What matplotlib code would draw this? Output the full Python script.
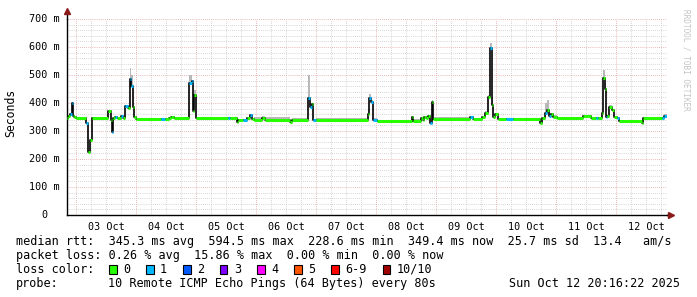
#!/usr/bin/env python3
"""SmokePing style latency graph, 10 days ending Sun Oct 12 20:16:22 2025."""
import matplotlib
matplotlib.use("Agg")
import matplotlib.pyplot as plt
import numpy as np

# ---------------------------------------------------------------------------
# Data: hours since 2025-10-03 00:00, median rtt (ms), smoke top (ms), loss
# ---------------------------------------------------------------------------
t_start, t_end = -3.73, 236.27

hours = [-3.73, -3.2, -2.6, -1.8, -1.4, -0.8, 0.0, 4.0, 4.8, 5.6, 6.2,
         12.8, 13.8, 14.2, 14.8, 15.6, 16.4, 18.0, 18.8, 19.6, 20.6, 21.4,
         22.0, 22.6, 23.2, 23.8, 34.0, 35.6, 37.2, 38.0, 39.2, 45.0, 46.2,
         46.6, 47.2, 47.8, 60.8, 61.6, 64.2, 64.8, 66.8, 68.4, 69.6, 70.4,
         71.2, 74.4, 75.6, 85.6, 86.4, 92.6, 93.4, 94.2, 94.8, 96.0, 116.6,
         117.2, 118.0, 118.8, 120.4, 134.2, 134.6, 138.0, 138.8, 139.2, 140.0,
         140.8, 141.6, 142.2, 142.8, 157.6, 158.8, 162.2, 163.4, 164.8, 165.4,
         166.2, 166.8, 167.6, 168.6, 172.0, 174.8, 185.6, 186.2, 187.6, 188.4,
         189.2, 190.0, 190.8, 192.4, 202.8, 206.0, 208.0, 208.8, 210.2, 210.8,
         211.4, 211.8, 212.4, 213.2, 214.4, 215.0, 216.4, 217.2, 226.2, 226.8,
         234.4, 235.2]

median_ms = [345, 352, 362, 400, 355, 350, 345, 328, 226, 268, 345,
             370, 340, 297, 345, 350, 347, 355, 348, 388, 382, 487,
             460, 385, 350, 344, 344, 344, 348, 351, 346, 470, 478,
             372, 428, 345, 345, 345, 332, 340, 340, 345, 357, 343,
             340, 347, 339, 332, 338, 417, 385, 397, 340, 338, 360,
             417, 405, 340, 337, 350, 337, 345, 338, 350, 345,
             352, 330, 405, 342, 350, 342, 350, 365, 422, 595,
             393, 350, 361, 342, 342, 342, 330, 345, 363, 375,
             355, 360, 350, 345, 352, 345, 345, 345, 365, 488,
             450, 350, 355, 387, 375, 350, 345, 337, 330, 345,
             345, 355]

smoke_top_ms = [350, 356, 366, 405, 360, 353, 348, 332, 232, 272, 348,
                372, 343, 300, 348, 352, 350, 358, 352, 392, 388, 525,
                500, 400, 353, 347, 347, 347, 350, 353, 349, 500, 480,
                380, 445, 348, 348, 348, 336, 343, 343, 348, 360, 346,
                350, 352, 350, 340, 345, 500, 400, 400, 343, 345, 380,
                431, 410, 345, 340, 352, 342, 350, 342, 355, 350,
                356, 335, 410, 350, 352, 345, 352, 370, 430, 613,
                420, 355, 364, 346, 346, 346, 334, 348, 400, 411,
                365, 365, 356, 348, 355, 348, 348, 348, 370, 518,
                470, 355, 358, 392, 380, 355, 348, 340, 334, 348,
                348, 360]

loss = [0, 0, 1, 1, 0, 0, 0, 1, 0, 0, 0,
        0, 0, 1, 0, 1, 0, 1, 0, 1, 0, 1,
        1, 0, 0, 0, 1, 0, 0, 0, 0, 1, 1,
        0, 0, 0, 1, 0, 0, 0, 1, 0, 1, 0,
        0, 0, 0, 0, 0, 1, 1, 0, 1, 0, 0,
        1, 1, 1, 0, 0, 0, 0, 0, 0, 0,
        0, 1, 0, 0, 1, 0, 0, 0, 0, 1,
        0, 0, 0, 0, 1, 0, 0, 0, 1, 0,
        1, 0, 0, 0, 0, 0, 1, 0, 0, 0,
        0, 1, 0, 0, 0, 0, 1, 0, 0, 0,
        1, 1]

day_labels = ["03 Oct", "04 Oct", "05 Oct", "06 Oct", "07 Oct",
              "08 Oct", "09 Oct", "10 Oct", "11 Oct", "12 Oct"]
ytick_vals = [0, 100, 200, 300, 400, 500, 600, 700]
ytick_labels = ["0", "100 m", "200 m", "300 m", "400 m", "500 m", "600 m", "700 m"]

loss_names = ["0", "1", "2", "3", "4", "5", "6-9", "10/10"]
loss_colors = ["#26ff00", "#00b8ff", "#0059ff", "#7e00ff",
               "#ff00ff", "#ff5500", "#ff0000", "#a10000"]

stats_rtt = "median rtt:  345.3 ms avg  594.5 ms max  228.6 ms min  349.4 ms now  25.7 ms sd  13.4   am/s"
stats_loss = "packet loss: 0.26 % avg  15.86 % max  0.00 % min  0.00 % now"
probe_text = "10 Remote ICMP Echo Pings (64 Bytes) every 80s"
stamp_text = "Sun Oct 12 20:16:22 2025"

# ---------------------------------------------------------------------------
MONO = "DejaVu Sans Mono"
W, H = 697, 297
fig = plt.figure(figsize=(W / 100, H / 100), dpi=100)
fig.patch.set_facecolor("white")

x0, x1, ytop, ybot = 67, 667, 19, 215
ax = fig.add_axes([x0 / W, (H - ybot) / H, (x1 - x0) / W, (ybot - ytop) / H])
ax.set_facecolor("white")

t = np.array(hours + [t_end])
med = np.array(median_ms + [median_ms[-1]]) / 1000.0
top = np.array(smoke_top_ms + [smoke_top_ms[-1]]) / 1000.0

# smoke
ax.fill_between(t, med, top, step="post", color="#b8b8b8", linewidth=0, zorder=2)
# median line (black transitions) and loss coloured median
ax.step(t, med, where="post", color="black", linewidth=1.2, zorder=3)
seg_colors = [loss_colors[l] for l in loss]
ax.hlines(med[:-1], t[:-1], t[1:], colors=seg_colors, linewidth=2.2, zorder=4)

ax.set_xlim(t_start, t_end)
ax.set_ylim(0, 0.7)

# grid: 6h minor gray, midnight major red; 20 ms minor, 100 ms major
midnights = np.arange(0, t_end, 24)
ax.set_xticks(midnights)
ax.set_xticks(np.arange(-0, t_end, 6), minor=True)
ax.set_xticklabels([])
ax.set_yticks(np.array(ytick_vals) / 1000.0)
ax.set_yticks(np.arange(0, 0.7001, 0.02), minor=True)
ax.set_yticklabels([])
ax.grid(which="minor", color="#c8c8c8", linestyle=(0, (1, 1.5)), linewidth=0.6, zorder=0)
ax.grid(which="major", color="#e0a0a0", linestyle=(0, (1, 1.5)), linewidth=0.6, zorder=0)
ax.tick_params(which="both", length=0)

for s in ("top", "right"):
    ax.spines[s].set_visible(False)
for s in ("left", "bottom"):
    ax.spines[s].set_color("black")
    ax.spines[s].set_linewidth(1.0)

# axis extensions and arrow heads
ax.plot([0, 0], [1.0, 1.035], transform=ax.transAxes, color="black", lw=1.0, clip_on=False)
ax.plot([0.0], [1.04], transform=ax.transAxes, marker="^", color="#8b1a1a",
        markersize=4.5, clip_on=False)
ax.plot([1.0, 1.004], [0, 0], transform=ax.transAxes, color="black", lw=1.0, clip_on=False)
ax.plot([1.006], [0], transform=ax.transAxes, marker=">", color="#8b1a1a",
        markersize=4.5, clip_on=False)

# tick labels
for h, lab in zip(midnights + 12, day_labels):
    ax.text(h, -0.035, lab, ha="center", va="top", family=MONO, fontsize=7.3,
            transform=ax.get_xaxis_transform())
for v, lab in zip(ytick_vals, ytick_labels):
    xr = 60 if lab != "0" else 47
    fig.text(xr / W, 1 - (ybot - v * 0.28) / H, lab, ha="right", va="center",
             family=MONO, fontsize=7.3)

fig.text(11 / W, 1 - 113 / H, "Seconds", rotation=90, ha="center", va="center",
         family=MONO, fontsize=8.3)
fig.text(686 / W, 1 - 60 / H, "RRDTOOL / TOBI OETIKER", rotation=270, ha="center",
         va="center", family=MONO, fontsize=5.6, color="#c4c4c4")

# legend / stats block
def put(x, y, s, **kw):
    fig.text(x / W, 1 - y / H, s, va="center", family=MONO, fontsize=8.47, **kw)

put(16, 241.5, stats_rtt)
put(16, 255.5, stats_loss)
put(16, 269.5, "loss color:")
box_x = [109, 146, 183, 220, 257, 294, 331, 383]
lab_x = [123, 160, 197, 234, 271, 308, 345, 397]
for bx, lx, name, col in zip(box_x, lab_x, loss_names, loss_colors):
    fig.patches.append(plt.Rectangle((bx / W, 1 - 273.5 / H), 7.5 / W, 8.5 / H,
                                     transform=fig.transFigure, facecolor=col,
                                     edgecolor="black", linewidth=0.8))
    put(lx, 269.5, name)
put(16, 283.5, "probe:")
put(107.5, 283.5, probe_text)
put(680, 283.5, stamp_text, ha="right")

fig.savefig("out.png", dpi=100, facecolor="white")
